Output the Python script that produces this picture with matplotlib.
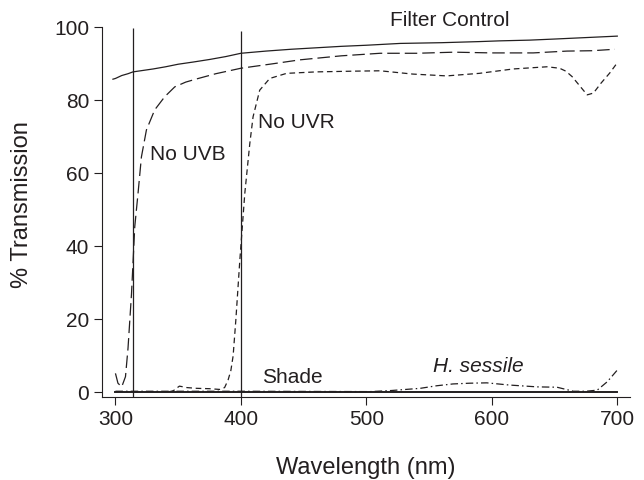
import matplotlib.pyplot as plt
import numpy as np

plt.rcParams['font.family'] = ['Liberation Sans', 'DejaVu Sans']
ink = '#231f20'

# wavelengths (nm) and % transmission
wl_filter = [298, 300, 305, 310, 314, 320, 330, 340, 350, 362, 375, 388, 400, 420, 440,
             460, 480, 500, 527, 560, 590, 606, 630, 650, 675, 700]
t_filter = [85.8, 86.0, 86.8, 87.3, 87.8, 88.1, 88.6, 89.2, 89.9, 90.5, 91.2, 92.0, 92.9, 93.5, 94.0,
            94.4, 94.8, 95.1, 95.6, 95.8, 96.1, 96.3, 96.5, 96.8, 97.2, 97.6]

wl_nouvb = [300, 302, 305, 308, 310, 312.8, 315.4, 318, 320.7, 324.7, 331.3, 339.3, 347.3, 356,
            365, 380, 400, 425, 447, 480, 511, 540, 570, 600, 633, 660, 680, 698]
t_nouvb = [5.2, 2.5, 1.5, 4.3, 12, 27, 45.4, 54.5, 64.5, 71.9, 77.4, 81.0, 83.7, 85.0,
           85.9, 87.3, 88.8, 90.0, 91.1, 92.2, 92.9, 92.9, 93.2, 93.0, 93.0, 93.5, 93.6, 94.0]

wl_nouvr = [343, 346, 348.6, 351, 357, 364.6, 375, 383, 387, 389.8, 392, 393.8, 396, 399.1, 403.1,
            407.1, 409.7, 415, 423, 436.4, 460, 490, 511, 537, 564, 590, 617, 644, 654, 659,
            664, 670, 676, 681, 687, 694, 700]
t_nouvr = [0.2, 0.4, 1.1, 1.7, 1.3, 1.1, 1.0, 0.8, 1.3, 3.4, 6.0, 10.0, 20.0, 36.0, 54.5,
           68.2, 75.5, 82.8, 86.0, 87.4, 87.8, 88.0, 88.1, 87.2, 86.7, 87.4, 88.6, 89.2, 88.8, 88.0,
           86.5, 84.0, 81.5, 82.0, 84.7, 87.5, 90.3]

wl_shade = [300, 400, 500, 600, 700]
t_shade = [0.2, 0.2, 0.2, 0.2, 0.2]

wl_hs = [300, 400, 503, 520, 543, 556, 569, 582, 596, 614, 636, 652, 665, 675, 684, 692, 700]
t_hs = [0.3, 0.3, 0.2, 0.5, 1.1, 1.8, 2.3, 2.5, 2.6, 2.0, 1.5, 1.4, 0.3, 0.3, 0.6, 2.9, 6.1]

cutoffs = [314, 400]
cutoff_tops = [99.8, 99.0]

fig = plt.figure(figsize=(6.44, 4.8), dpi=100)
ax = fig.add_axes([0.159, 0.1735, 0.819, 0.7695])

lw = 0.9
ax.plot(wl_filter, t_filter, color=ink, lw=lw)
ax.plot(wl_nouvb, t_nouvb, color=ink, lw=lw, dashes=(10, 4))
ax.plot(wl_nouvr, t_nouvr, color=ink, lw=lw, dashes=(4.5, 3))
ax.plot(wl_shade, t_shade, color=ink, lw=1.4)
ax.plot(wl_hs, t_hs, color=ink, lw=lw, dashes=(6, 2.5, 1.2, 2.5))
ax.vlines(cutoffs, -1.2, cutoff_tops, color=ink, lw=lw)

fs = 15
ax.text(519, 101.8, 'Filter Control', fontsize=fs, color=ink, va='center')
ax.text(327.4, 65.3, 'No UVB', fontsize=fs, color=ink, va='center')
ax.text(413.7, 73.9, 'No UVR', fontsize=fs, color=ink, va='center')
ax.text(416.9, 4.05, 'Shade', fontsize=fs, color=ink, va='center')
ax.text(553.3, 7.0, 'H. sessile', fontsize=fs, color=ink, va='center', style='italic')

ax.set_xlim(289.6, 710)
ax.set_ylim(-1.2, 100)
ax.set_xticks([300, 400, 500, 600, 700])
ax.set_yticks([0, 20, 40, 60, 80, 100])
ax.tick_params(direction='out', length=5.5, width=0.8, labelsize=fs, colors=ink, pad=4)
for s in ['top', 'right']:
    ax.spines[s].set_visible(False)
for s in ['left', 'bottom']:
    ax.spines[s].set_color(ink)
    ax.spines[s].set_linewidth(0.8)

ax.set_xlabel('Wavelength (nm)', fontsize=17, color=ink)
ax.set_ylabel('% Transmission', fontsize=17, color=ink)
ax.xaxis.set_label_coords(0.5, -0.163)
ax.yaxis.set_label_coords(-0.132, 0.519)

plt.savefig('out.png', dpi=100)
